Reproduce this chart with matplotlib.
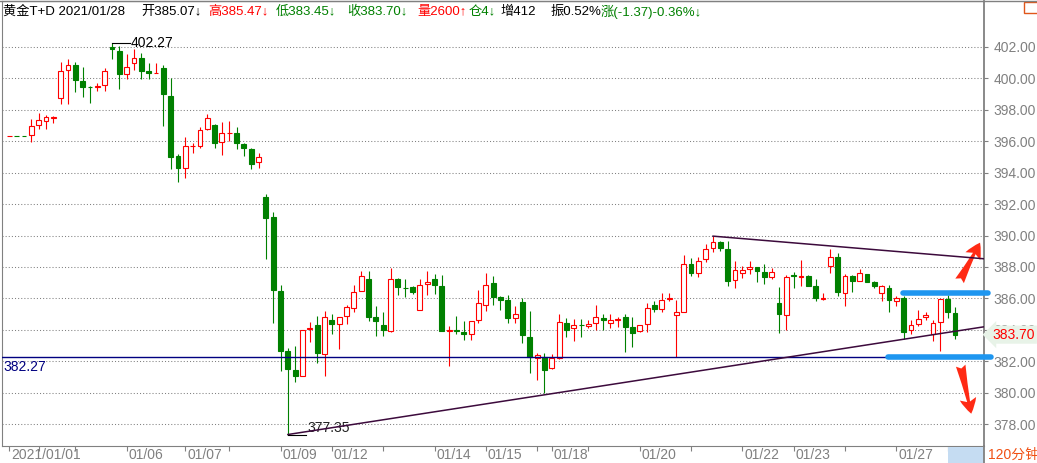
import numpy as np
import matplotlib.pyplot as plt
from matplotlib.patches import Rectangle
from matplotlib.lines import Line2D
from matplotlib.transforms import ScaledTranslation

# 120-minute bars, 黄金T+D, 2021/01/01 - 2021/01/28
opens = [396.30, 396.32, 396.32, 396.36, 397.02, 397.28, 397.49, 398.74, 400.51, 400.87,
         399.83, 399.47, 399.43, 399.57, 402.00, 401.70, 400.26, 400.98, 401.26, 400.49,
         400.30, 400.68, 398.90, 395.06, 394.32, 395.66, 395.72, 396.79, 397.02, 395.94,
         396.49, 396.51, 395.81, 395.51, 394.66, 392.43, 391.15, 386.49, 382.68, 381.45,
         381.06, 384.04, 384.34, 382.45, 384.66, 384.36, 384.89, 385.40, 386.49, 387.21,
         384.85, 384.32, 383.91, 387.26, 386.68, 386.74, 385.28, 386.94, 387.26, 386.81,
         383.94, 384.00, 383.89, 383.74, 384.64, 385.60, 387.00, 386.09, 385.87, 384.77,
         385.79, 383.57, 382.23, 382.26, 381.60, 382.21, 384.43, 384.11, 384.34, 384.28,
         384.43, 384.74, 384.43, 384.66, 384.81, 384.19, 383.91, 384.36, 385.60, 385.36,
         385.94, 384.94, 385.17, 388.21, 387.62, 388.51, 389.21, 389.60, 389.17, 387.17,
         387.62, 387.85, 388.00, 387.70, 387.36, 385.70, 384.94, 387.49, 387.38, 387.45,
         386.81, 385.96, 388.06, 388.66, 386.34, 387.45, 387.11, 387.57, 387.06, 386.32,
         386.68, 385.83, 386.02, 383.98, 384.38, 384.85, 383.74, 384.53, 385.94, 385.07]
highs = [396.32, 396.32, 396.32, 397.43, 397.81, 397.68, 397.60, 401.02, 401.19, 401.00,
         400.74, 399.51, 399.70, 400.68, 402.27, 402.06, 401.51, 401.83, 401.62, 400.94,
         400.94, 400.87, 400.00, 395.17, 396.26, 395.87, 396.89, 397.74, 397.11, 397.21,
         397.30, 396.91, 395.87, 395.57, 395.26, 392.64, 391.49, 386.83, 382.85, 382.96,
         384.00, 384.49, 384.91, 385.23, 384.98, 384.85, 385.57, 386.87, 387.72, 387.72,
         385.55, 385.15, 387.91, 387.30, 387.21, 386.79, 387.26, 387.77, 387.53, 387.51,
         384.28, 384.89, 384.57, 384.57, 386.51, 387.60, 387.40, 386.13, 386.19, 385.49,
         386.06, 385.23, 382.51, 382.55, 382.45, 385.02, 384.77, 384.70, 384.70, 384.64,
         385.57, 385.02, 385.00, 384.85, 385.00, 384.81, 384.30, 385.72, 385.85, 386.36,
         386.36, 385.91, 388.79, 388.60, 388.62, 389.49, 389.96, 389.66, 389.62, 388.40,
         388.09, 388.38, 388.00, 388.21, 387.91, 386.74, 387.51, 387.70, 388.45, 387.47,
         387.23, 386.36, 389.17, 388.87, 387.57, 387.51, 387.89, 387.57, 387.11, 386.85,
         386.83, 386.17, 386.17, 384.64, 385.26, 385.11, 384.64, 385.94, 386.21, 385.47]
lows = [396.30, 396.30, 396.30, 395.94, 396.79, 396.74, 397.13, 398.34, 398.34, 399.13,
        398.79, 398.40, 399.17, 399.19, 401.21, 399.34, 399.98, 400.55, 399.98, 399.94,
        400.30, 396.94, 394.23, 393.43, 393.68, 395.26, 395.55, 396.68, 395.55, 395.15,
        396.04, 395.47, 395.04, 394.26, 394.32, 388.53, 384.45, 381.36, 377.35, 380.72,
        381.06, 383.26, 381.87, 381.09, 383.77, 382.81, 384.40, 385.13, 386.49, 384.55,
        383.60, 383.62, 383.85, 386.21, 386.09, 386.28, 385.28, 386.21, 386.26, 383.91,
        381.68, 383.77, 383.34, 383.34, 384.45, 385.21, 385.57, 385.28, 384.43, 384.43,
        383.15, 381.23, 380.79, 379.98, 381.51, 382.13, 383.53, 383.32, 383.57, 384.15,
        383.98, 384.00, 384.15, 384.19, 382.62, 382.94, 383.87, 383.85, 385.17, 385.11,
        385.81, 382.26, 385.11, 387.40, 387.36, 388.30, 388.94, 389.00, 386.81, 386.64,
        387.32, 387.53, 387.04, 386.89, 387.26, 383.83, 384.00, 386.68, 386.77, 386.81,
        385.85, 385.87, 387.64, 386.13, 385.49, 386.38, 387.11, 387.06, 386.68, 385.81,
        385.11, 385.55, 383.43, 383.72, 384.26, 384.64, 383.32, 382.66, 384.77, 383.45]
closes = [396.32, 396.30, 396.30, 396.96, 397.36, 397.53, 397.53, 400.47, 400.85, 399.87,
          399.43, 399.43, 399.49, 400.47, 401.85, 400.26, 400.74, 401.26, 400.49, 400.32,
          400.36, 398.98, 395.02, 394.32, 395.68, 395.72, 396.70, 397.47, 395.85, 396.51,
          396.53, 395.87, 395.55, 394.57, 394.98, 391.13, 386.53, 382.64, 381.49, 381.04,
          384.00, 384.09, 382.51, 384.85, 384.36, 384.85, 385.43, 386.43, 387.45, 384.81,
          384.55, 384.00, 387.26, 386.74, 386.66, 386.40, 386.85, 387.06, 386.83, 383.91,
          384.00, 383.96, 383.72, 384.57, 385.72, 386.87, 386.09, 385.89, 384.74, 385.02,
          383.66, 382.30, 382.38, 381.43, 382.19, 384.49, 384.00, 384.30, 384.30, 384.36,
          384.81, 384.60, 384.62, 384.72, 384.21, 383.79, 384.30, 385.38, 385.34, 385.89,
          386.02, 385.13, 388.19, 387.62, 388.38, 389.15, 389.60, 389.19, 387.13, 387.81,
          387.81, 388.00, 387.72, 387.34, 387.68, 385.04, 387.36, 387.40, 387.45, 386.81,
          386.06, 386.04, 388.66, 386.38, 387.45, 387.09, 387.62, 387.06, 386.77, 386.79,
          385.87, 386.02, 383.89, 384.34, 384.72, 384.94, 384.47, 385.94, 385.15, 383.70]

tick_pos = [0, 4, 9, 16, 24, 30, 37, 44, 51, 58, 65, 72, 74, 79, 86, 93, 100, 107, 114, 121, 128]
tick_lbl = ['2021/01/01', '', '', '01/06', '01/07', '', '01/09', '01/12', '', '01/14', '01/15',
            '', '01/18', '', '01/20', '', '01/22', '01/23', '', '01/27', '']
price_ticks = np.arange(378, 403, 2)

support = 382.27
box_top = 386.36
upper_trend_x = [96, 133]
upper_trend_y = [389.96, 388.52]
lower_trend_x = [38, 133]
lower_trend_y = [377.35, 384.20]

header = [("黄金T+D 2021/01/28", 'black', 3), ("开385.07↓", 'black', 141),
          ("高385.47↓", '#ff0000', 208), ("低383.45↓", '#008000', 276),
          ("收383.70↓", '#008000', 347), ("量2600↑", '#ff0000', 417),
          ("仓4↓", '#008000', 469), ("增412", 'black', 500),
          ("振0.52%", 'black', 551), ("涨(-1.37)-0.36%↓", '#008000', 601)]

FONT = ['Liberation Sans', 'Noto Sans CJK SC', 'DejaVu Sans']
plt.rcParams['font.family'] = FONT
RED, GREEN, GRAY = '#ff0000', '#008000', '#808080'
W, H = 1037, 463

fig = plt.figure(figsize=(W / 100, H / 100), dpi=100)
ax = fig.add_axes([2 / W, 17 / H, 982.3 / W, 445.5 / H])

o = np.array(opens)
c = np.array(closes)
x = np.arange(len(o))
up = c >= o
col = np.where(up, RED, GREEN)

ax.vlines(x, lows, highs, colors=col, lw=0.8, zorder=2)
ax.bar(x, np.maximum(np.abs(c - o), 0.03), bottom=np.minimum(o, c), width=0.66,
       color=np.where(up, 'white', GREEN), edgecolor=col, linewidth=0.8, zorder=3)

ax.set_xlim(-1, 133)
ax.set_ylim(376.62, 404.94)

# grid + axes
ax.set_yticks(price_ticks)
ax.set_yticklabels(['%.2f' % v for v in price_ticks])
ax.yaxis.tick_right()
ax.yaxis.grid(True, linestyle=(0, (1, 2)), color=GRAY, lw=0.75)
ax.set_axisbelow(True)
ax.tick_params(axis='y', colors=GRAY, length=3, width=0.8, pad=3.5, labelsize=10)
ax.set_xticks(tick_pos, tick_lbl)
ax.tick_params(axis='x', colors=GRAY, length=3.6, width=0.8, pad=-2.5, labelsize=10)
for lbl in ax.get_xticklabels():
    lbl.set_ha('left')
    lbl.set_transform(lbl.get_transform() + ScaledTranslation(2 / 100, 0, fig.dpi_scale_trans))
for s in ax.spines.values():
    s.set_color(GRAY)
    s.set_linewidth(0.8)
ax.spines['right'].set_linewidth(1.3)

# support line
ax.axhline(support, color='#000080', lw=1.0, zorder=4)
ax.annotate('%.2f' % support, xy=(0, support), xycoords=('axes fraction', 'data'),
            xytext=(1, -3), textcoords='offset pixels', ha='left', va='top',
            color='#000080', fontsize=10)

# trend lines
ax.plot(upper_trend_x, upper_trend_y, color='#3c0a3c', lw=1.1, zorder=4)
ax.plot(lower_trend_x, lower_trend_y, color='#3c0a3c', lw=1.1, zorder=4)

# high / low marks
hi = int(np.argmax(highs))
lo = int(np.argmin(lows))
ax.plot([hi, hi + 2.5], [highs[hi]] * 2, color='black', lw=0.8, zorder=4)
ax.text(hi + 2.6, highs[hi], '%.2f' % highs[hi], ha='left', va='center', fontsize=10,
        color='black')
ax.plot([lo, lo + 2.5], [lows[lo]] * 2, color='black', lw=0.8, zorder=4)
ax.annotate('%.2f' % lows[lo], xy=(lo + 2.7, lows[lo]), xytext=(0, 7),
            textcoords='offset pixels', ha='left', va='center', fontsize=10, color='#202020')

# blue box lines
ax.plot([121.9, 133.5], [box_top] * 2, color='#1e96f0', lw=4, solid_capstyle='round',
        clip_on=False, zorder=5)
ax.plot([119.9, 133.9], [support] * 2, color='#1e96f0', lw=4, solid_capstyle='round',
        clip_on=False, zorder=5)

# red arrows
arr = dict(arrowstyle='fancy,head_length=0.55,head_width=0.6,tail_width=0.35',
           color='#ff2a14', lw=0, mutation_scale=20)
ax.annotate('', xy=(132.6, 389.7), xytext=(129.45, 386.96), arrowprops=arr,
            annotation_clip=False)
ax.annotate('', xy=(131.3, 378.5), xytext=(129.7, 381.9), arrowprops=arr,
            annotation_clip=False)

# last close tag
ax.annotate('%.2f' % closes[-1], xy=(133, closes[-1]), xytext=(8, 0),
            textcoords='offset pixels', ha='left', va='center', color=RED, fontsize=10,
            bbox=dict(boxstyle='larrow,pad=0.15', fc='#e8f3e8', ec='none'),
            annotation_clip=False, zorder=6)

# header
for txt, cl, px in header:
    fig.text(px / W, 1 - 12 / H, txt, color=cl, fontsize=9.5, va='center', ha='left')
fig.add_artist(Line2D([0, 1], [1 - 0.6 / H] * 2, color=GRAY, lw=1))
fig.add_artist(Rectangle((1024 / W, 1 - 13 / H), 14 / W, 11 / H, fill=False,
                         ec='#e0561a', lw=1))

# bottom right period box
fig.add_artist(Rectangle((948 / W, 0), 36 / W, 16 / H, color='#c5dcf2', lw=0))
fig.add_artist(Line2D([984.3 / W] * 2, [0, 17 / H], color=GRAY, lw=1.3))
fig.text(988 / W, 8 / H, '120分钟', color='#f05014', fontsize=10, va='center', ha='left')

fig.savefig('out.png', dpi=100)
